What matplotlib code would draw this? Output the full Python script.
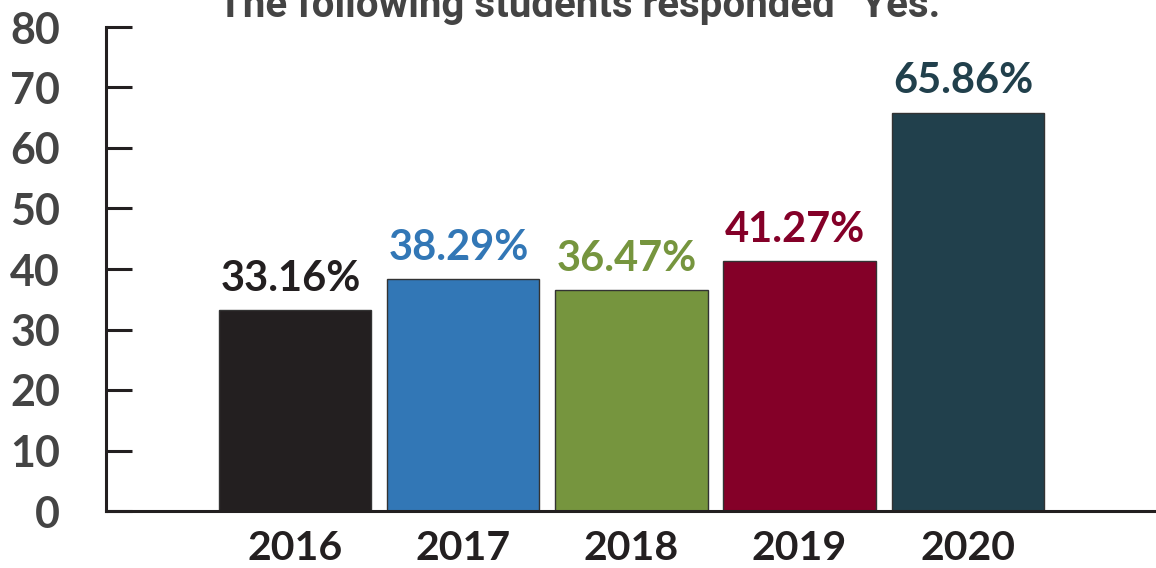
import matplotlib.pyplot as plt

years = ['2016', '2017', '2018', '2019', '2020']
pct_yes = [33.16, 38.29, 36.47, 41.27, 65.86]
bar_colors = ['#231f20', '#3277b6', '#76953e', '#840028', '#21404c']
yticks = [0, 10, 20, 30, 40, 50, 60, 70, 80]

fig = plt.figure(figsize=(11.56, 5.68), dpi=100)
ax = fig.add_axes([106 / 1156, 57 / 568, 1 - 106 / 1156, 484 / 568])

x = range(len(years))
bars = ax.bar(x, pct_yes, width=0.905, color=bar_colors, edgecolor='#333333', linewidth=1)

# value labels above bars, same colour as the bar, starting at the bar's left edge
for b, v, c in zip(bars, pct_yes, bar_colors):
    ax.annotate('%.2f%%' % v, (b.get_x(), v),
                xytext=(1, 9), textcoords='offset points',
                ha='left', va='bottom', fontsize=30, fontweight='bold',
                family='Lato', color=c)

ax.set_ylim(0, 80)
ax.set_xlim(-1.125, 5.12)
ax.set_yticks(yticks)
ax.set_xticks(list(x))
ax.set_xticklabels(years)

for s in ['top', 'right']:
    ax.spines[s].set_visible(False)
for s in ['left', 'bottom']:
    ax.spines[s].set_linewidth(2.2)
    ax.spines[s].set_color('#231f20')

ax.tick_params(axis='y', direction='in', length=19, width=2.2, color='#231f20',
               pad=33, labelsize=31, labelcolor='#444444')
ax.tick_params(axis='x', length=0, pad=14, labelsize=29.5, labelcolor='#231f20')
for lbl in ax.get_yticklabels() + ax.get_xticklabels():
    lbl.set_family('Lato')
    lbl.set_fontweight('bold')

fig.text(0.508, 1 - 17 / 568, 'The following students responded \u201cYes.\u201d', ha='center', va='baseline',
         fontsize=29, fontweight='semibold', family=['Roboto', 'DejaVu Sans'],
         color='#444444')

fig.savefig('out.png', dpi=100)
